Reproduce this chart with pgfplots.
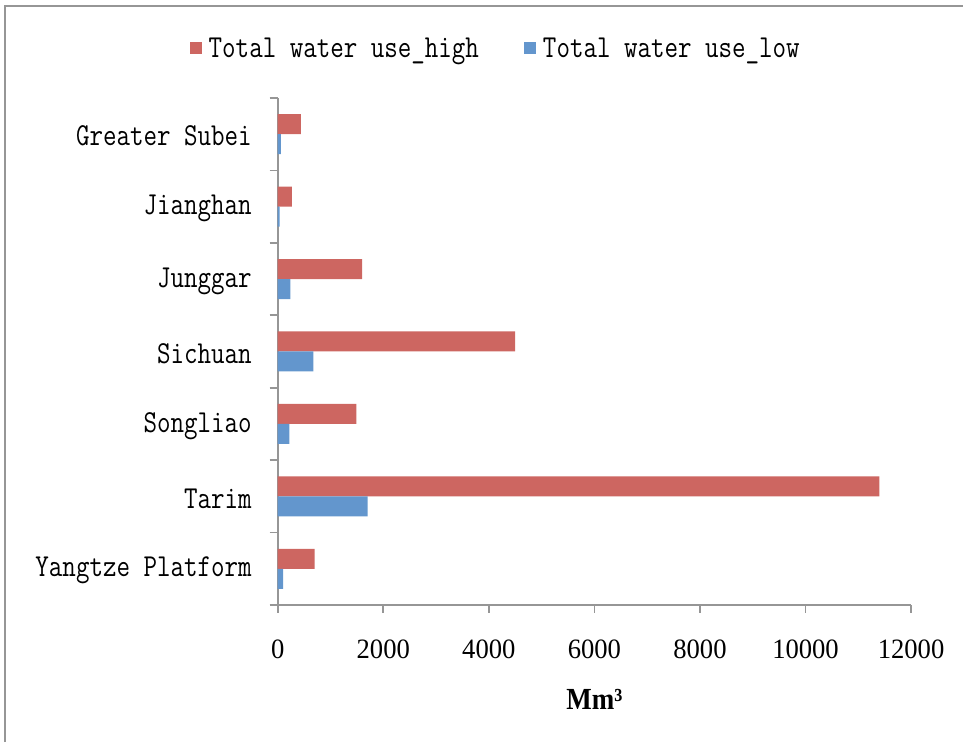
\documentclass[border=0pt]{standalone}
\usepackage{fontspec}
\setmainfont{Liberation Serif}
\newfontfamily\simfont[FakeStretch=0.82]{Latin Modern Mono}
\newfontfamily\numfont[FakeStretch=0.95]{Liberation Serif}
\newfontfamily\labfont[FakeStretch=0.88]{Liberation Serif}
\usepackage{pgfplots}
\pgfplotsset{compat=1.18}
\definecolor{barred}{RGB}{205,102,97}
\definecolor{barblue}{RGB}{99,150,205}
\definecolor{axgray}{RGB}{150,150,150}
\begin{document}
\begin{tikzpicture}
\useasboundingbox (0,0) rectangle (722.25pt,556.5pt);
% outer chart frame (only left and top edges visible)
\draw[axgray, line width=1pt] (3.75pt,0pt) -- (3.75pt,552pt) -- (722.25pt,552pt);
\begin{axis}[
    at={(208.3pt,102.75pt)}, anchor=south west,
    scale only axis, width=475pt, height=380.25pt,
    xbar, bar width=15pt,
    xmin=0, xmax=12000, ymin=-0.5, ymax=6.5,
    axis lines*=left,
    axis line style={axgray, line width=1.2pt},
    tick align=outside,
    major tick length=6pt, minor tick length=6pt,
    every tick/.append style={axgray, line width=1.2pt},
    every major y tick/.append style={draw=none},
    xtick={0,2000,...,12000},
    scaled x ticks=false,
    /pgf/number format/1000 sep={},
    /pgf/number format/assume math mode=true,
    xticklabel style={font=\numfont\fontsize{21}{21}\selectfont, yshift=-17pt},
    ytick={0,...,6},
    yticklabels={Yangtze Platform,Tarim,Songliao,Sichuan,Junggar,Jianghan,Greater Subei},
    minor ytick={-0.5,0.5,1.5,2.5,3.5,4.5,5.5,6.5},
    yticklabel style={font=\simfont\fontsize{24}{24}\selectfont, xshift=-10pt, yshift=-1.5pt},
    xlabel={\labfont\bfseries Mm³},
    xlabel style={font=\fontsize{23}{23}\selectfont, at={(axis description cs:0.5,-0.187)}, anchor=center},
    legend columns=2,
    legend style={at={(axis description cs:0.345,1.098)}, anchor=center, draw=none,
        font=\simfont\fontsize{24}{24}\selectfont,
        /tikz/every even column/.append style={column sep=32pt}},
    legend image code/.code={\fill[#1] (0pt,-4.5pt) rectangle (9pt,4.5pt); \path (12pt,0pt);},
]
\addplot[fill=barred, draw=none, bar shift=7.5pt] coordinates {
    (700,0) (11400,1) (1490,2) (4500,3) (1600,4) (270,5) (440,6)};
\addlegendentry{Total water use\_high}
\addplot[fill=barblue, draw=none, bar shift=-7.5pt] coordinates {
    (100,0) (1705,1) (220,2) (675,3) (240,4) (38,5) (60,6)};
\addlegendentry{Total water use\_low}
\end{axis}
\end{tikzpicture}
\end{document}
